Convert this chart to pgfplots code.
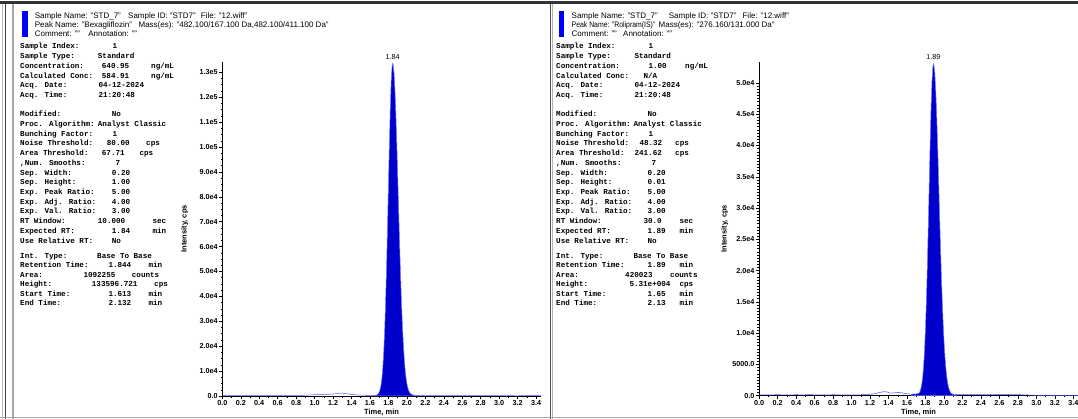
\documentclass[border=0pt]{standalone}
\usepackage{fontspec}
\setmainfont{Liberation Sans}
\newfontfamily\monofont{Liberation Mono}
\usepackage{pgfplots}
\usepackage{pgfplotstable}
\pgfplotsset{compat=1.18}
\definecolor{peakblue}{RGB}{0,0,204}
\definecolor{edgeblue}{RGB}{120,120,255}
\definecolor{baseblue}{RGB}{80,80,255}
\definecolor{hdrblue}{RGB}{0,0,255}

\pgfplotstableread{
x y
0 260
0.05 250
0.1 270
0.15 250
0.2 260
0.25 240
0.3 260
0.35 250
0.4 270
0.45 250
0.5 240
0.55 260
0.6 250
0.65 270
0.7 260
0.75 250
0.8 270
0.85 280
0.9 300
0.95 380
1.0 500
1.05 560
1.1 600
1.15 680
1.2 800
1.25 1000
1.28 1150
1.31 1100
1.35 900
1.4 650
1.45 450
1.5 350
1.55 300
1.6 280
1.613 280
2.132 280
2.15 270
2.2 260
2.25 250
2.3 270
2.35 260
2.4 250
2.45 260
2.5 270
2.55 250
2.6 260
2.65 250
2.7 270
2.75 260
2.8 250
2.85 270
2.9 260
2.95 250
3.0 280
3.05 150
3.08 80
3.12 300
3.16 100
3.2 60
3.25 200
3.3 100
3.35 300
3.4 150
3.45 250
}\leftbase

\pgfplotstableread{
x y
1.613 280
1.62 280
1.63 285
1.64 290
1.65 300
1.66 330
1.67 400
1.68 560
1.69 900
1.70 1500
1.71 2600
1.72 4400
1.73 7300
1.74 11800
1.75 18200
1.76 26900
1.77 38200
1.78 52000
1.79 67700
1.80 84400
1.81 100800
1.82 115400
1.83 126400
1.84 132600
1.846 133597
1.85 133300
1.86 130000
1.87 123300
1.88 113800
1.89 102100
1.90 89100
1.91 75600
1.92 62400
1.93 50100
1.94 39200
1.95 29700
1.96 22000
1.97 15800
1.98 11000
1.99 7500
2.00 5000
2.01 3300
2.02 2100
2.03 1400
2.04 950
2.05 700
2.06 520
2.07 420
2.08 360
2.10 310
2.12 290
2.132 280
}\leftpeak

\pgfplotstableread{
x y
0 130
0.05 150
0.1 120
0.15 140
0.2 170
0.25 140
0.3 150
0.35 130
0.4 160
0.45 140
0.5 150
0.55 170
0.6 140
0.65 120
0.7 150
0.75 130
0.8 160
0.85 140
0.9 120
0.95 140
1.0 150
1.05 130
1.1 150
1.15 170
1.2 200
1.25 320
1.3 500
1.35 640
1.38 620
1.42 420
1.46 450
1.5 520
1.53 500
1.57 380
1.6 300
1.65 250
2.13 200
2.2 210
2.25 180
2.3 200
2.35 170
2.4 190
2.45 160
2.5 180
2.55 150
2.6 200
2.65 170
2.7 190
2.75 150
2.8 170
2.85 140
2.9 120
2.95 80
3.0 60
3.05 50
3.1 70
3.15 40
3.2 60
3.25 50
3.3 40
3.35 60
3.4 50
3.45 50
}\rightbase

\pgfplotstableread{
x y
1.65 250
1.66 250
1.67 255
1.68 260
1.69 263
1.70 280
1.71 300
1.72 330
1.73 420
1.74 640
1.75 1100
1.76 1850
1.77 3000
1.78 4800
1.79 7300
1.80 10800
1.81 15300
1.82 20750
1.83 27000
1.84 33650
1.85 40150
1.86 45900
1.87 50250
1.88 52700
1.886 53100
1.89 53000
1.90 51700
1.91 49050
1.92 45250
1.93 40600
1.94 35450
1.95 30100
1.96 24850
1.97 19950
1.98 15600
1.99 11850
2.00 8760
2.01 6300
2.02 4410
2.03 3000
2.04 2000
2.05 1300
2.06 830
2.07 530
2.08 350
2.09 260
2.10 220
2.13 200
}\rightpeak

\pgfplotsset{
  chrom/.style={
    scale only axis, clip=false,
    axis x line=bottom, axis y line=left,
    axis line style={-, black, line width=0.6pt},
    every outer x axis line/.append style={-},
    every outer y axis line/.append style={-},
    tick align=outside, major tick length=3pt, minor tick length=1.6pt,
    tick style={black, line width=0.5pt},
    scaled y ticks=false, scaled x ticks=false,
    xmin=0, xmax=3.45, ymin=0,
    xtick={0,0.2,0.4,0.6,0.8,1.0,1.2,1.4,1.6,1.8,2.0,2.2,2.4,2.6,2.8,3.0,3.2,3.4},
    xticklabels={0.0,0.2,0.4,0.6,0.8,1.0,1.2,1.4,1.6,1.8,2.0,2.2,2.4,2.6,2.8,3.0,3.2,3.4},
    minor x tick num=1,
    ticklabel style={font=\fontsize{7.2}{8}\selectfont\bfseries, inner sep=1.5pt},
    xlabel={Time, min}, ylabel={Intensity, cps},
    label style={font=\fontsize{7.5}{9}\selectfont\bfseries},
  },
}
\tikzset{
  mono/.style={font=\monofont\bfseries\fontsize{7.6}{8}\selectfont, anchor=mid west, inner sep=0pt},
  hdr/.style={font=\fontsize{8}{9}\selectfont, anchor=mid west, inner sep=0pt},
}
\newcommand\T[3]{\node[mono] at (#1,#2) {#3};}

\begin{document}
\begin{tikzpicture}
\useasboundingbox (0,0) rectangle (1078pt,419pt);
\fill[white] (0,0) rectangle (1078pt,419pt);
\begin{scope}[x=1pt,y=-1pt,yshift=419pt]
  % frames
  \fill[black!80] (0,1.5) rectangle (1078,4);
  \draw[gray!50, line width=0.8] (2.5,4) -- (2.5,419);
  \draw[black!75, line width=1] (5,4) -- (5,419);
  \draw[gray!70, line width=1.5] (13,4) -- (13,419);
  \draw[black!70, line width=1] (550.5,4) -- (550.5,419);
  \draw[gray!60, line width=1.5] (552.5,4) -- (552.5,419);
  \draw[gray!70, line width=1] (0,417.5) -- (1078,417.5);
  % blue markers
  \fill[hdrblue] (22,11) rectangle (28,37);
  \fill[hdrblue] (558.7,11) rectangle (564.3,37);
  % headers left
  \node[hdr] at (34.6,15.6) {Sample Name: "STD\_7"};
  \node[hdr] at (128,15.6) {Sample ID: "STD7"};
  \node[hdr] at (200.7,15.6) {File: "12.wiff"};
  \node[hdr] at (34.6,25) {Peak Name: "Bexagliflozin"};
  \node[hdr] at (138.4,25) {Mass(es): "482.100/167.100 Da,482.100/411.100 Da"};
  \node[hdr] at (34.6,34.3) {Comment: ""};
  \node[hdr] at (88.2,34.3) {Annotation: ""};
  % headers right
  \node[hdr] at (571.5,15.6) {Sample Name: "STD\_7"};
  \node[hdr] at (668.7,15.6) {Sample ID: "STD7"};
  \node[hdr] at (742.4,15.6) {File: "12.wiff"};
  \node[hdr, xscale=0.86] at (571.5,25) {Peak Name: "Rolipram(IS)"};
  \node[hdr] at (658.5,25) {Mass(es): "276.160/131.000 Da"};
  \node[hdr] at (571.5,34.3) {Comment: ""};
  \node[hdr] at (623,34.3) {Annotation: ""};
  % left parameters
  \T{20}{46.3}{Sample Index:}\T{112.3}{46.3}{1}
  \T{20}{56.0}{Sample Type:}\T{97.7}{56.0}{Standard}
  \T{20}{65.7}{Concentration:}\T{101.7}{65.7}{640.95}\T{151}{65.7}{ng/mL}
  \T{20}{75.4}{Calculated Conc:}\T{101.7}{75.4}{584.91}\T{151}{75.4}{ng/mL}
  \T{20}{85.1}{Acq. Date:}\T{98.3}{85.1}{04-12-2024}
  \T{20}{94.8}{Acq. Time:}\T{98.3}{94.8}{21:20:48}
  \T{20}{114.2}{Modified:}\T{111.7}{114.2}{No}
  \T{20}{123.9}{Proc. Algorithm:}\T{97.7}{123.9}{Analyst Classic}
  \T{20}{133.6}{Bunching Factor:}\T{112.3}{133.6}{1}
  \T{20}{143.3}{Noise Threshold:}\T{106.7}{143.3}{80.00}\T{146}{143.3}{cps}
  \T{20}{153.0}{Area Threshold:}\T{101.7}{153.0}{67.71}\T{139.3}{153.0}{cps}
  \T{20}{162.7}{,Num. Smooths:}\T{115.3}{162.7}{7}
  \T{20}{172.4}{Sep. Width:}\T{111.7}{172.4}{0.20}
  \T{20}{182.1}{Sep. Height:}\T{111.7}{182.1}{1.00}
  \T{20}{191.8}{Exp. Peak Ratio:}\T{111.7}{191.8}{5.00}
  \T{20}{201.5}{Exp. Adj. Ratio:}\T{111.7}{201.5}{4.00}
  \T{20}{211.2}{Exp. Val. Ratio:}\T{111.7}{211.2}{3.00}
  \T{20}{220.9}{RT Window:}\T{97.7}{220.9}{10.000}\T{152.3}{220.9}{sec}
  \T{20}{230.6}{Expected RT:}\T{111.7}{230.6}{1.84}\T{152.3}{230.6}{min}
  \T{20}{241.0}{Use Relative RT:}\T{111.7}{241.0}{No}
  \T{20}{255.5}{Int. Type:}\T{97}{255.5}{Base To Base}
  \T{20}{265.2}{Retention Time:}\T{108.3}{265.2}{1.844}\T{148.3}{265.2}{min}
  \T{20}{274.6}{Area:}\T{83.3}{274.6}{1092255}\T{131.7}{274.6}{counts}
  \T{20}{284.0}{Height:}\T{91.7}{284.0}{133596.721}\T{154}{284.0}{cps}
  \T{20}{293.4}{Start Time:}\T{108.3}{293.4}{1.613}\T{148.3}{293.4}{min}
  \T{20}{302.8}{End Time:}\T{108.3}{302.8}{2.132}\T{148.3}{302.8}{min}
  % right parameters
  \T{556}{46.3}{Sample Index:}\T{648.3}{46.3}{1}
  \T{556}{56.0}{Sample Type:}\T{634.3}{56.0}{Standard}
  \T{556}{65.7}{Concentration:}\T{648.3}{65.7}{1.00}\T{685}{65.7}{ng/mL}
  \T{556}{75.4}{Calculated Conc:}\T{643.3}{75.4}{N/A}
  \T{556}{85.1}{Acq. Date:}\T{634.3}{85.1}{04-12-2024}
  \T{556}{94.8}{Acq. Time:}\T{634.3}{94.8}{21:20:48}
  \T{556}{114.2}{Modified:}\T{647.3}{114.2}{No}
  \T{556}{123.9}{Proc. Algorithm:}\T{633.3}{123.9}{Analyst Classic}
  \T{556}{133.6}{Bunching Factor:}\T{648.3}{133.6}{1}
  \T{556}{143.3}{Noise Threshold:}\T{639.3}{143.3}{48.32}\T{675}{143.3}{cps}
  \T{556}{153.0}{Area Threshold:}\T{634.3}{153.0}{241.62}\T{675}{153.0}{cps}
  \T{556}{162.7}{,Num. Smooths:}\T{651.3}{162.7}{7}
  \T{556}{172.4}{Sep. Width:}\T{647.3}{172.4}{0.20}
  \T{556}{182.1}{Sep. Height:}\T{647.3}{182.1}{0.01}
  \T{556}{191.8}{Exp. Peak Ratio:}\T{647.3}{191.8}{5.00}
  \T{556}{201.5}{Exp. Adj. Ratio:}\T{647.3}{201.5}{4.00}
  \T{556}{211.2}{Exp. Val. Ratio:}\T{647.3}{211.2}{3.00}
  \T{556}{220.9}{RT Window:}\T{643.3}{220.9}{30.0}\T{679.3}{220.9}{sec}
  \T{556}{230.6}{Expected RT:}\T{647.3}{230.6}{1.89}\T{679.3}{230.6}{min}
  \T{556}{241.0}{Use Relative RT:}\T{647.3}{241.0}{No}
  \T{556}{255.5}{Int. Type:}\T{633.3}{255.5}{Base To Base}
  \T{556}{265.2}{Retention Time:}\T{647.3}{265.2}{1.89}\T{679.3}{265.2}{min}
  \T{556}{274.6}{Area:}\T{625}{274.6}{420023}\T{670}{274.6}{counts}
  \T{556}{284.0}{Height:}\T{629.3}{284.0}{5.31e+004}\T{679.3}{284.0}{cps}
  \T{556}{293.4}{Start Time:}\T{647.3}{293.4}{1.65}\T{679.3}{293.4}{min}
  \T{556}{302.8}{End Time:}\T{647.3}{302.8}{2.13}\T{679.3}{302.8}{min}
\end{scope}

% left chromatogram
\begin{axis}[chrom,
  at={(222.3pt,23pt)}, anchor=south west,
  width=318.4pt, height=334.3pt,
  ymax=134260,
  ytick={0,10000,20000,30000,40000,50000,60000,70000,80000,90000,100000,110000,120000,130000},
  yticklabels={0.0,1.0e4,2.0e4,3.0e4,4.0e4,5.0e4,6.0e4,7.0e4,8.0e4,9.0e4,1.0e5,1.1e5,1.2e5,1.3e5},
  minor y tick num=3,
  xlabel style={at={(axis description cs:0.5,-0.05)}, anchor=center},
  ylabel style={at={(axis description cs:-0.118,0.5)}, anchor=center},
]
\addplot[baseblue, line width=0.5pt] table {\leftbase};
\addplot[fill=peakblue, draw=edgeblue, line width=0.5pt] table {\leftpeak} \closedcycle;
\node[font=\fontsize{7.2}{8}\selectfont, anchor=south, inner sep=1pt, yshift=3pt] at (axis cs:1.846,133597) {1.84};
\end{axis}

% right chromatogram
\begin{axis}[chrom,
  at={(759pt,23.3pt)}, anchor=south west,
  width=319.1pt, height=334pt,
  ymax=53400,
  ytick={0,5000,10000,15000,20000,25000,30000,35000,40000,45000,50000},
  yticklabels={0.0,5000.0,1.0e4,1.5e4,2.0e4,2.5e4,3.0e4,3.5e4,4.0e4,4.5e4,5.0e4},
  minor y tick num=9,
  xlabel style={at={(axis description cs:0.5,-0.05)}, anchor=center},
  ylabel style={at={(axis description cs:-0.1075,0.5)}, anchor=center},
]
\addplot[baseblue, line width=0.5pt] table {\rightbase};
\addplot[fill=peakblue, draw=edgeblue, line width=0.5pt] table {\rightpeak} \closedcycle;
\node[font=\fontsize{7.2}{8}\selectfont, anchor=south, inner sep=1pt, yshift=3pt] at (axis cs:1.886,53100) {1.89};
\end{axis}
\end{tikzpicture}
\end{document}
